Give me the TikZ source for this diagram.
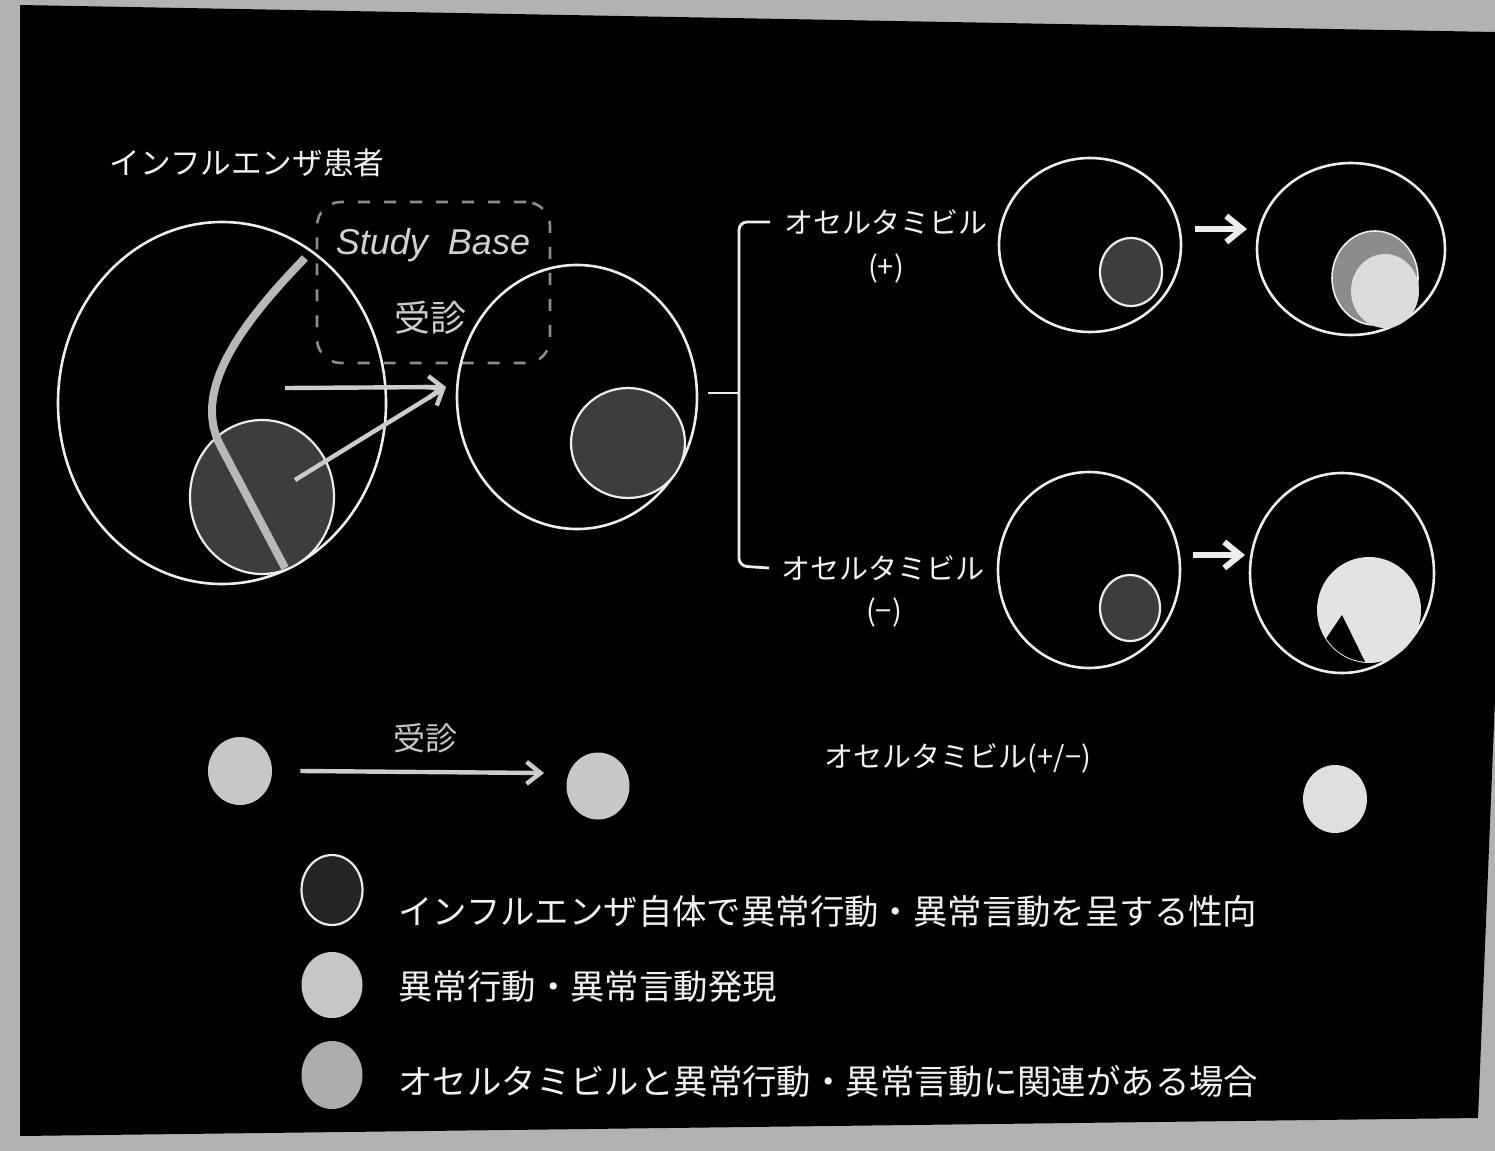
\documentclass[tikz,border=0pt]{standalone}
\usepackage{fontspec}
\setmainfont{Noto Sans CJK JP}
\newfontfamily\lsans{Liberation Sans}
\usetikzlibrary{arrows.meta,shapes.geometric}
\definecolor{scan}{gray}{0.70}
\definecolor{linew}{gray}{0.93}
\definecolor{darkfill}{gray}{0.24}
\definecolor{legdark}{gray}{0.14}
\definecolor{lightfill}{gray}{0.78}
\definecolor{midfill}{gray}{0.68}
\definecolor{ringfill}{gray}{0.55}
\definecolor{corefill}{gray}{0.86}
\definecolor{arrowc}{gray}{0.80}
\definecolor{curvec}{gray}{0.72}
\definecolor{dashc}{gray}{0.55}
\definecolor{txtw}{gray}{0.95}
\begin{document}
\begin{tikzpicture}[x=0.5pt,y=-0.5pt,
  ring/.style={ellipse,draw=linew,line width=1.3pt,inner sep=0pt},
  darkdisc/.style={ellipse,draw=linew,line width=1.1pt,fill=darkfill,inner sep=0pt},
  lightdisc/.style={ellipse,fill=lightfill,inner sep=0pt},
  middisc/.style={ellipse,fill=midfill,inner sep=0pt},
  garrow/.style={draw=arrowc,line width=2.2pt,-{Straight Barb[length=7pt,width=11pt]}},
  warrow/.style={draw=linew,line width=3pt,-{Straight Barb[length=8pt,width=13pt]}},
  bracketline/.style={draw=linew,line width=1.4pt},
  jtxt/.style={text=txtw,inner sep=0pt,font=\fontsize{14.5pt}{16pt}\selectfont},
  legtxt/.style={text=txtw,inner sep=0pt,anchor=west,font=\fontsize{17.2pt}{19pt}\selectfont}
]
\useasboundingbox (0,0) rectangle (1495,1151);
\fill[scan] (0,0) rectangle (1495,1151);
\fill[black] (20,5) -- (1495,32) -- (1495,700) -- (1478,1118) -- (20,1136) -- cycle;

% title
\node[text=txtw,inner sep=0pt,font=\fontsize{15.3pt}{17pt}\selectfont] (title) at (247,163) {インフルエンザ患者};

% study base box
\node[draw=dashc,dashed,dash pattern=on 6pt off 7pt,line width=1.3pt,rounded corners=12pt,
      minimum width=116.5pt,minimum height=80.5pt] (sb) at (433.5,282.5) {};
\node[text=gray!35!white,inner sep=0pt,font=\lsans\itshape\fontsize{18pt}{20pt}\selectfont] (sbt) at (433,245) {Study\ \ Base};
\node[text=gray!40!white,inner sep=0pt,font=\fontsize{18pt}{20pt}\selectfont] (jushin) at (430,318) {受診};

% big population circle
\node[ring,minimum width=164pt,minimum height=181pt] (pop) at (222,403) {};
\node[darkdisc,minimum width=72pt,minimum height=77pt] (popin) at (262,497) {};
\draw[curvec,line width=4pt] (305,258) .. controls (230,335) and (195,395) .. (220,445) -- (285,568);

% arrows into middle circle
\node[ring,minimum width=120pt,minimum height=132pt] (mid) at (577,397) {};
\node[darkdisc,minimum width=57pt,minimum height=55pt] (midin) at (628,443) {};
\coordinate (h0) at (285,388);
\coordinate (d0) at (295,480);
\coordinate (tip) at (446,387);
\draw[garrow] (h0) -- (tip);
\draw[garrow] (d0) -- (tip);

% bracket
\node[jtxt,anchor=west] (o1) at (784,222) {オセルタミビル};
\node[jtxt] (p1) at (886,268) {(+)};
\node[jtxt,anchor=west] (o2) at (781,568) {オセルタミビル};
\node[jtxt] (p2) at (884,612) {(−)};
\coordinate (bj) at (739,393);
\coordinate (bl) at (708,393);
\draw[bracketline] (bl) -- (bj);
\draw[bracketline,rounded corners=4pt] ([xshift=-7pt]o1.west) -- (739,222) -- (739,566) -- ([xshift=-6pt]o2.west);

% top right circles
\node[ring,minimum width=91pt,minimum height=87pt] (c1) at (1090,245) {};
\node[darkdisc,minimum width=31pt,minimum height=34pt] (c1in) at (1131,272) {};
\coordinate (a1s) at (1195,229);
\coordinate (a1e) at (1247,229);
\draw[warrow] (a1s) -- (a1e);
\node[ring,minimum width=94pt,minimum height=86pt] (c2) at (1351,249) {};
\node[ellipse,fill=ringfill,draw=linew,line width=0.8pt,inner sep=0pt,minimum width=43pt,minimum height=47pt] (c2in) at (1375,278) {};
\node[ellipse,fill=corefill,inner sep=0pt,minimum width=34pt,minimum height=37pt] (c2core) at (1385,291) {};

% bottom right circles
\node[ring,minimum width=91pt,minimum height=98pt] (c3) at (1089,570) {};
\node[darkdisc,minimum width=30pt,minimum height=33pt] (c3in) at (1130,608) {};
\coordinate (a2s) at (1193,555);
\coordinate (a2e) at (1245,555);
\draw[warrow] (a2s) -- (a2e);
\node[ring,minimum width=92pt,minimum height=100pt] (c4) at (1342,573) {};
\node[lightdisc,fill=gray!22,minimum width=52pt,minimum height=53pt] (c4in) at (1369,610) {};
\begin{scope}
  \clip (c4in.center) ellipse [x radius=51, y radius=52];
  \fill[black] (1342,615) -- (1298,680) -- (1374,680) -- cycle;
\end{scope}

% middle row
\node[lightdisc,minimum width=32pt,minimum height=34pt] (d1) at (240,771) {};
\node[lightdisc,minimum width=31.5pt,minimum height=33.5pt] (d2) at (598,786) {};
\draw[garrow] ([xshift=14pt]d1.east) -- ([xshift=-11pt]d2.west |- 0,773);
\node[text=gray!45!white,inner sep=0pt,font=\fontsize{16pt}{18pt}\selectfont] (jushin2) at (425,738) {受診};
\node[jtxt] (oplusminus) at (958,758) {オセルタミビル(+/−)};
\node[lightdisc,fill=gray!25,minimum width=32pt,minimum height=34pt] (d3) at (1335,799) {};

% legend
\node[ellipse,draw=linew,line width=1.1pt,fill=legdark,inner sep=0pt,minimum width=30.5pt,minimum height=35pt] (l1) at (332,890) {};
\node[legtxt] (t1) at (398,911) {インフルエンザ自体で異常行動・異常言動を呈する性向};
\node[lightdisc,minimum width=30.5pt,minimum height=33pt] (l2) at (332,985) {};
\node[legtxt] (t2) at (398,987) {異常行動・異常言動発現};
\node[middisc,minimum width=30.5pt,minimum height=34pt] (l3) at (332,1075) {};
\node[legtxt] (t3) at (398,1081) {オセルタミビルと異常行動・異常言動に関連がある場合};
\end{tikzpicture}
\end{document}
